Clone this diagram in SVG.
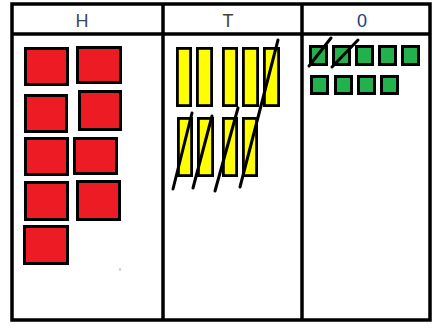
<svg xmlns="http://www.w3.org/2000/svg" width="432" height="331" viewBox="0 0 432 331">
<style>
.frame{fill:none;stroke:#000;stroke-width:3.5}
.hd{font-family:"Liberation Sans",Arial,sans-serif;font-size:18px;text-anchor:middle}
.red{fill:#ed1c24;stroke:#000;stroke-width:3}
.yel{fill:#ffff00;stroke:#000;stroke-width:2.8}
.grn{fill:#22b14c;stroke:#000;stroke-width:3}
.x{stroke:#000;stroke-width:3;fill:none;stroke-linecap:round}
</style>
<rect width="432" height="331" fill="#fff"/>
<g id="table">
<rect class="frame" x="12" y="4" width="418" height="316"/>
<line class="frame" x1="12" y1="34" x2="430" y2="34"/>
<line class="frame" x1="163" y1="4" x2="163" y2="320"/>
<line class="frame" x1="302" y1="4" x2="302" y2="320"/>
</g>
<g id="headers">
<text class="hd" x="82" y="27" fill="#3a4a5e">H</text>
<text class="hd" x="228" y="27" fill="#4a3f35">T</text>
<text class="hd" x="362" y="27" fill="#23387f">0</text>
</g>
<g id="hundreds">
<rect class="red" x="25.5" y="48.5" width="42" height="36"/>
<rect class="red" x="77.5" y="47.5" width="43" height="35"/>
<rect class="red" x="25.5" y="95.5" width="41" height="36"/>
<rect class="red" x="79.5" y="91.5" width="41" height="38"/>
<rect class="red" x="25.5" y="138.5" width="42" height="36"/>
<rect class="red" x="74.5" y="138.5" width="42" height="35"/>
<rect class="red" x="25.5" y="182.5" width="42" height="37"/>
<rect class="red" x="77.5" y="181.5" width="42" height="38"/>
<rect class="red" x="24.5" y="226.5" width="43" height="37"/>
<rect x="119.5" y="268" width="1" height="3" fill="#aaa"/>
</g>
<g id="tens">
<rect class="yel" x="177.4" y="48.4" width="13.2" height="57.2"/>
<rect class="yel" x="197.4" y="48.4" width="14.2" height="57.2"/>
<rect class="yel" x="223.4" y="48.4" width="13.2" height="57.2"/>
<rect class="yel" x="243.4" y="48.4" width="14.2" height="57.2"/>
<rect class="yel" x="264.4" y="48.4" width="14.2" height="57.2"/>
<rect class="yel" x="178.4" y="118.4" width="13.2" height="57.2"/>
<rect class="yel" x="198.4" y="118.4" width="14.2" height="57.2"/>
<rect class="yel" x="223.4" y="118.4" width="13.2" height="57.2"/>
<rect class="yel" x="243.4" y="118.4" width="13.2" height="57.2"/>
</g>
<g id="ones">
<rect class="grn" x="310.5" y="46.5" width="16" height="18"/>
<rect class="grn" x="333.5" y="46.5" width="16" height="18"/>
<rect class="grn" x="356.5" y="46.5" width="16" height="18"/>
<rect class="grn" x="379.5" y="46.5" width="16" height="18"/>
<rect class="grn" x="402.5" y="46.5" width="16" height="18"/>
<rect class="grn" x="311.5" y="76.5" width="16" height="17"/>
<rect class="grn" x="335.5" y="76.5" width="16" height="17"/>
<rect class="grn" x="358.5" y="76.5" width="16" height="17"/>
<rect class="grn" x="381.5" y="76.5" width="16" height="17"/>
</g>
<g id="cross-outs">
<line class="x" x1="173" y1="189" x2="192" y2="113"/>
<line class="x" x1="193" y1="188" x2="212" y2="116"/>
<line class="x" x1="215" y1="191" x2="238" y2="108"/>
<line class="x" x1="240" y1="187" x2="278" y2="40"/>
<line class="x" x1="309" y1="66" x2="331" y2="38"/>
<line class="x" x1="332" y1="67" x2="358" y2="40"/>
</g>
</svg>
